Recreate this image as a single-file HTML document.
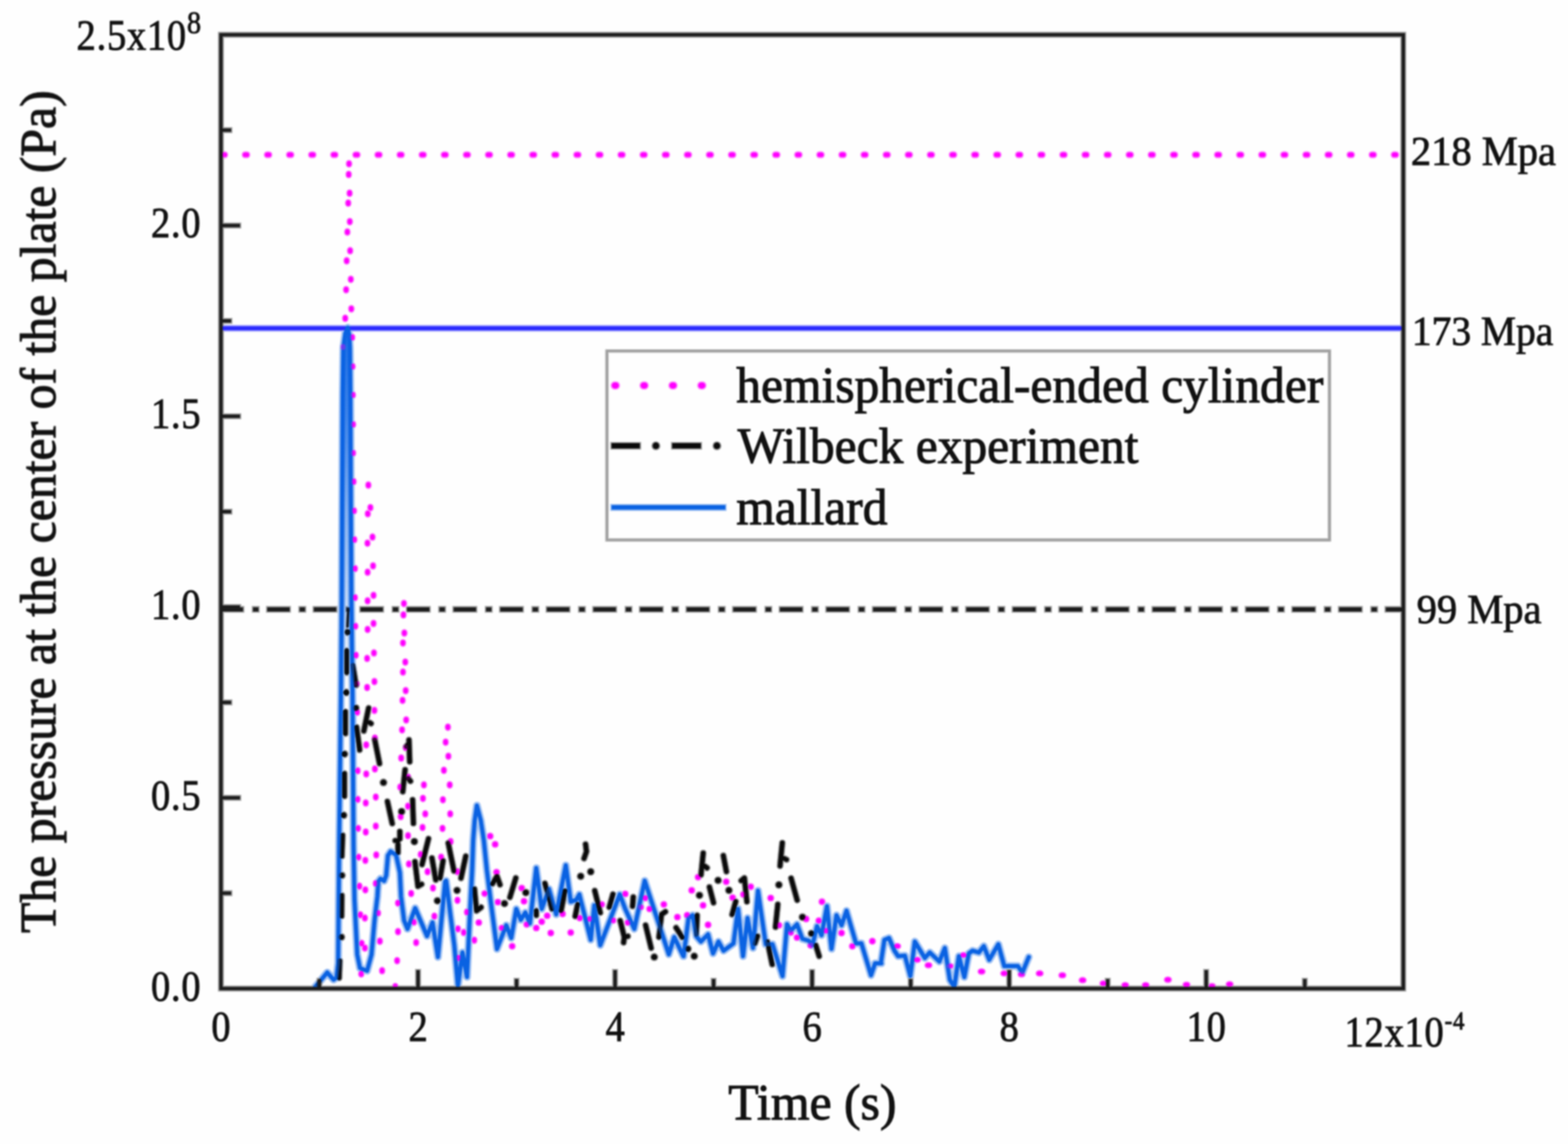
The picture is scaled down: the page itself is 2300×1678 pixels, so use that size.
<!DOCTYPE html>
<html lang="en"><head><meta charset="utf-8"><title>Pressure at the center of the plate</title>
<style>
html,body{margin:0;padding:0;background:#fff;}
body{width:2300px;height:1678px;overflow:hidden;}
svg{display:block;font-family:"Liberation Serif","Times New Roman",serif;}
.h{filter:blur(1.1px);opacity:0.36;}
.g{filter:blur(0.8px);}
.t{filter:blur(1.3px);}
text{fill:#111;stroke:#111;}
.tk{font-size:60px;stroke-width:1.1px;}
.bg{font-size:73px;stroke-width:1.4px;}
</style></head><body>
<svg width="2300" height="1678" viewBox="0 0 2300 1678">
<defs><linearGradient id="sg" gradientUnits="userSpaceOnUse" x1="0" y1="481" x2="0" y2="1020"><stop offset="0" stop-color="#0a62e2" stop-opacity="0.9"/><stop offset="0.22" stop-color="#0a62e2" stop-opacity="0.7"/><stop offset="0.5" stop-color="#0a62e2" stop-opacity="0.38"/><stop offset="0.78" stop-color="#0a62e2" stop-opacity="0.16"/><stop offset="1" stop-color="#0a62e2" stop-opacity="0"/></linearGradient></defs>
<rect width="2300" height="1678" fill="#fefefe"/>
<g class="h">
<line x1="327.2" y1="227.0" x2="2054.4" y2="227.0" stroke="#ff00ff" stroke-width="11.0" stroke-linecap="round" stroke-dasharray="2.4 30.01"/>
<line x1="324.1" y1="481.5" x2="2058.4" y2="481.5" stroke="#2a2aff" stroke-width="10.0"/>
<line x1="321.7" y1="893.8" x2="2058.4" y2="893.8" stroke="#1c1c1c" stroke-width="10.0" stroke-dasharray="36.80 10.70 11.80 9.06"/>
<g fill="#ff00ff">
<ellipse cx="512.0" cy="240.2" rx="5.3" ry="6.2"/>
<ellipse cx="511.5" cy="255.9" rx="5.3" ry="6.2"/>
<ellipse cx="512.8" cy="283.4" rx="5.3" ry="6.2"/>
<ellipse cx="510.8" cy="297.9" rx="5.3" ry="6.2"/>
<ellipse cx="513.1" cy="325.1" rx="5.3" ry="6.2"/>
<ellipse cx="509.5" cy="340.3" rx="5.3" ry="6.2"/>
<ellipse cx="513.6" cy="367.8" rx="5.3" ry="6.2"/>
<ellipse cx="508.5" cy="382.5" rx="5.3" ry="6.2"/>
<ellipse cx="514.6" cy="409.7" rx="5.3" ry="6.2"/>
<ellipse cx="507.7" cy="425.0" rx="5.3" ry="6.2"/>
<ellipse cx="515.3" cy="453.0" rx="5.3" ry="6.2"/>
<ellipse cx="506.4" cy="466.9" rx="5.3" ry="6.2"/>
<ellipse cx="516.6" cy="494.9" rx="5.3" ry="6.2"/>
<ellipse cx="503.4" cy="508.9" rx="5.3" ry="6.2"/>
<ellipse cx="517.1" cy="537.6" rx="5.3" ry="6.2"/>
<ellipse cx="517.6" cy="579.3" rx="5.3" ry="6.2"/>
<ellipse cx="517.9" cy="622.5" rx="5.3" ry="6.2"/>
<ellipse cx="517.9" cy="664.5" rx="5.3" ry="6.2"/>
<ellipse cx="518.6" cy="706.4" rx="5.3" ry="6.2"/>
<ellipse cx="519.2" cy="749.2" rx="5.3" ry="6.2"/>
<ellipse cx="519.7" cy="791.6" rx="5.3" ry="6.2"/>
<ellipse cx="540.3" cy="711.5" rx="5.3" ry="6.2"/>
<ellipse cx="543.3" cy="744.6" rx="5.3" ry="6.2"/>
<ellipse cx="539.5" cy="753.5" rx="5.3" ry="6.2"/>
<ellipse cx="546.4" cy="787.8" rx="5.3" ry="6.2"/>
<ellipse cx="539.0" cy="796.7" rx="5.3" ry="6.2"/>
<ellipse cx="520.6" cy="834.0" rx="5.3" ry="6.2"/>
<ellipse cx="539.2" cy="839.3" rx="5.3" ry="6.2"/>
<ellipse cx="547.2" cy="830.0" rx="5.3" ry="6.2"/>
<ellipse cx="520.6" cy="876.6" rx="5.3" ry="6.2"/>
<ellipse cx="539.2" cy="881.2" rx="5.3" ry="6.2"/>
<ellipse cx="547.9" cy="873.2" rx="5.3" ry="6.2"/>
<ellipse cx="521.2" cy="918.5" rx="5.3" ry="6.2"/>
<ellipse cx="539.2" cy="923.2" rx="5.3" ry="6.2"/>
<ellipse cx="547.9" cy="914.5" rx="5.3" ry="6.2"/>
<ellipse cx="521.9" cy="961.1" rx="5.3" ry="6.2"/>
<ellipse cx="538.5" cy="965.8" rx="5.3" ry="6.2"/>
<ellipse cx="548.5" cy="957.8" rx="5.3" ry="6.2"/>
<ellipse cx="523.2" cy="1003.1" rx="5.3" ry="6.2"/>
<ellipse cx="538.5" cy="1008.4" rx="5.3" ry="6.2"/>
<ellipse cx="549.2" cy="999.7" rx="5.3" ry="6.2"/>
<ellipse cx="592.5" cy="885.2" rx="5.3" ry="6.2"/>
<ellipse cx="591.8" cy="901.9" rx="5.3" ry="6.2"/>
<ellipse cx="593.1" cy="928.5" rx="5.3" ry="6.2"/>
<ellipse cx="591.1" cy="943.1" rx="5.3" ry="6.2"/>
<ellipse cx="594.5" cy="971.1" rx="5.3" ry="6.2"/>
<ellipse cx="591.1" cy="985.8" rx="5.3" ry="6.2"/>
<ellipse cx="595.1" cy="1013.0" rx="5.3" ry="6.2"/>
<ellipse cx="523.9" cy="1044.6" rx="5.3" ry="6.2"/>
<ellipse cx="549.2" cy="1042.0" rx="5.3" ry="6.2"/>
<ellipse cx="537.2" cy="1092.6" rx="5.3" ry="6.2"/>
<ellipse cx="549.9" cy="1082.6" rx="5.3" ry="6.2"/>
<ellipse cx="524.6" cy="1130.5" rx="5.3" ry="6.2"/>
<ellipse cx="537.2" cy="1135.2" rx="5.3" ry="6.2"/>
<ellipse cx="549.9" cy="1127.9" rx="5.3" ry="6.2"/>
<ellipse cx="524.6" cy="1172.5" rx="5.3" ry="6.2"/>
<ellipse cx="536.5" cy="1177.8" rx="5.3" ry="6.2"/>
<ellipse cx="551.2" cy="1169.1" rx="5.3" ry="6.2"/>
<ellipse cx="525.2" cy="1215.1" rx="5.3" ry="6.2"/>
<ellipse cx="536.5" cy="1220.4" rx="5.3" ry="6.2"/>
<ellipse cx="551.2" cy="1211.7" rx="5.3" ry="6.2"/>
<ellipse cx="590.5" cy="1027.3" rx="5.3" ry="6.2"/>
<ellipse cx="595.8" cy="1056.0" rx="5.3" ry="6.2"/>
<ellipse cx="589.8" cy="1070.6" rx="5.3" ry="6.2"/>
<ellipse cx="595.1" cy="1096.6" rx="5.3" ry="6.2"/>
<ellipse cx="588.5" cy="1111.9" rx="5.3" ry="6.2"/>
<ellipse cx="598.5" cy="1139.8" rx="5.3" ry="6.2"/>
<ellipse cx="587.1" cy="1154.5" rx="5.3" ry="6.2"/>
<ellipse cx="598.5" cy="1182.5" rx="5.3" ry="6.2"/>
<ellipse cx="587.8" cy="1197.8" rx="5.3" ry="6.2"/>
<ellipse cx="598.5" cy="1225.7" rx="5.3" ry="6.2"/>
<ellipse cx="621.8" cy="1151.2" rx="5.3" ry="6.2"/>
<ellipse cx="620.4" cy="1171.1" rx="5.3" ry="6.2"/>
<ellipse cx="623.8" cy="1193.8" rx="5.3" ry="6.2"/>
<ellipse cx="619.8" cy="1213.7" rx="5.3" ry="6.2"/>
<ellipse cx="657.0" cy="1066.6" rx="5.3" ry="6.2"/>
<ellipse cx="653.7" cy="1088.6" rx="5.3" ry="6.2"/>
<ellipse cx="657.7" cy="1109.2" rx="5.3" ry="6.2"/>
<ellipse cx="651.1" cy="1129.9" rx="5.3" ry="6.2"/>
<ellipse cx="659.7" cy="1151.2" rx="5.3" ry="6.2"/>
<ellipse cx="649.7" cy="1173.1" rx="5.3" ry="6.2"/>
<ellipse cx="660.4" cy="1193.8" rx="5.3" ry="6.2"/>
<ellipse cx="649.1" cy="1215.1" rx="5.3" ry="6.2"/>
<ellipse cx="661.0" cy="1234.4" rx="5.3" ry="6.2"/>
<circle cx="719.0" cy="1226.4" r="5.8"/>
<circle cx="726.3" cy="1238.4" r="5.8"/>
<ellipse cx="525.9" cy="1257.3" rx="5.3" ry="6.2"/>
<ellipse cx="535.9" cy="1262.0" rx="5.3" ry="6.2"/>
<ellipse cx="551.9" cy="1254.0" rx="5.3" ry="6.2"/>
<ellipse cx="527.2" cy="1299.9" rx="5.3" ry="6.2"/>
<ellipse cx="535.9" cy="1305.2" rx="5.3" ry="6.2"/>
<ellipse cx="551.2" cy="1295.9" rx="5.3" ry="6.2"/>
<ellipse cx="528.5" cy="1341.9" rx="5.3" ry="6.2"/>
<ellipse cx="535.2" cy="1346.5" rx="5.3" ry="6.2"/>
<ellipse cx="554.5" cy="1339.2" rx="5.3" ry="6.2"/>
<ellipse cx="530.5" cy="1383.8" rx="5.3" ry="6.2"/>
<ellipse cx="535.2" cy="1390.5" rx="5.3" ry="6.2"/>
<ellipse cx="557.2" cy="1380.5" rx="5.3" ry="6.2"/>
<ellipse cx="529.9" cy="1428.4" rx="5.3" ry="6.2"/>
<ellipse cx="560.5" cy="1423.8" rx="5.3" ry="6.2"/>
<ellipse cx="583.8" cy="1324.6" rx="5.3" ry="6.2"/>
<ellipse cx="583.8" cy="1366.5" rx="5.3" ry="6.2"/>
<ellipse cx="582.5" cy="1409.1" rx="5.3" ry="6.2"/>
<ellipse cx="579.8" cy="1447.1" rx="5.3" ry="6.2"/>
<ellipse cx="599.8" cy="1267.3" rx="5.3" ry="6.2"/>
<ellipse cx="603.1" cy="1310.6" rx="5.3" ry="6.2"/>
<ellipse cx="607.1" cy="1352.5" rx="5.3" ry="6.2"/>
<ellipse cx="610.4" cy="1382.5" rx="5.3" ry="6.2"/>
<ellipse cx="617.1" cy="1253.3" rx="5.3" ry="6.2"/>
<ellipse cx="627.1" cy="1278.6" rx="5.3" ry="6.2"/>
<ellipse cx="635.1" cy="1302.6" rx="5.3" ry="6.2"/>
<ellipse cx="647.1" cy="1257.3" rx="5.3" ry="6.2"/>
<ellipse cx="637.1" cy="1343.9" rx="5.3" ry="6.2"/>
<ellipse cx="671.0" cy="1278.6" rx="5.3" ry="6.2"/>
<ellipse cx="671.0" cy="1320.6" rx="5.3" ry="6.2"/>
<ellipse cx="671.7" cy="1362.5" rx="5.3" ry="6.2"/>
<ellipse cx="680.3" cy="1367.8" rx="5.3" ry="6.2"/>
<ellipse cx="672.4" cy="1405.1" rx="5.3" ry="6.2"/>
<ellipse cx="685.0" cy="1337.9" rx="5.3" ry="6.2"/>
<ellipse cx="695.7" cy="1379.1" rx="5.3" ry="6.2"/>
<circle cx="702.3" cy="1353.2" r="5.8"/>
<circle cx="711.0" cy="1310.6" r="5.8"/>
<circle cx="728.3" cy="1279.3" r="5.8"/>
<circle cx="730.3" cy="1323.2" r="5.8"/>
<circle cx="736.3" cy="1361.2" r="5.8"/>
<circle cx="751.3" cy="1387.8" r="5.8"/>
<circle cx="765.3" cy="1302.6" r="5.8"/>
<circle cx="768.6" cy="1321.9" r="5.8"/>
<circle cx="772.6" cy="1355.8" r="5.8"/>
<circle cx="786.6" cy="1361.2" r="5.8"/>
<circle cx="794.6" cy="1351.9" r="5.8"/>
<circle cx="802.6" cy="1343.2" r="5.8"/>
<circle cx="807.9" cy="1368.5" r="5.8"/>
<circle cx="825.2" cy="1340.5" r="5.8"/>
<circle cx="837.2" cy="1367.8" r="5.8"/>
<circle cx="850.5" cy="1346.5" r="5.8"/>
<circle cx="865.1" cy="1347.9" r="5.8"/>
<circle cx="882.5" cy="1326.6" r="5.8"/>
<circle cx="899.1" cy="1349.9" r="5.8"/>
<circle cx="917.1" cy="1311.2" r="5.8"/>
<circle cx="921.1" cy="1353.2" r="5.8"/>
<circle cx="946.4" cy="1317.2" r="5.8"/>
<circle cx="939.7" cy="1330.5" r="5.8"/>
<circle cx="953.0" cy="1333.2" r="5.8"/>
<circle cx="973.7" cy="1326.6" r="5.8"/>
<circle cx="993.6" cy="1345.2" r="5.8"/>
<circle cx="1024.0" cy="1286.6" r="5.8"/>
<circle cx="1014.6" cy="1305.9" r="5.8"/>
<circle cx="1031.3" cy="1327.9" r="5.8"/>
<circle cx="1008.0" cy="1342.5" r="5.8"/>
<circle cx="1038.6" cy="1356.5" r="5.8"/>
<circle cx="1065.2" cy="1293.3" r="5.8"/>
<circle cx="1074.6" cy="1316.6" r="5.8"/>
<circle cx="1090.5" cy="1311.9" r="5.8"/>
<circle cx="1101.2" cy="1300.6" r="5.8"/>
<circle cx="1130.5" cy="1317.2" r="5.8"/>
<circle cx="1142.5" cy="1357.2" r="5.8"/>
<circle cx="1159.8" cy="1367.8" r="5.8"/>
<circle cx="1169.1" cy="1375.2" r="5.8"/>
<circle cx="1182.4" cy="1347.9" r="5.8"/>
<circle cx="1189.1" cy="1386.5" r="5.8"/>
<circle cx="1201.1" cy="1350.5" r="5.8"/>
<circle cx="1205.7" cy="1322.6" r="5.8"/>
<circle cx="1211.7" cy="1365.2" r="5.8"/>
<circle cx="1234.4" cy="1368.5" r="5.8"/>
<circle cx="1250.3" cy="1387.8" r="5.8"/>
<circle cx="1279.6" cy="1380.5" r="5.8"/>
<ellipse cx="1316.0" cy="1387.8" rx="6.5" ry="5.4"/>
<ellipse cx="1345.2" cy="1407.8" rx="6.5" ry="5.4"/>
<ellipse cx="1361.9" cy="1415.8" rx="6.5" ry="5.4"/>
<ellipse cx="1393.2" cy="1417.1" rx="6.5" ry="5.4"/>
<ellipse cx="1413.2" cy="1401.1" rx="6.5" ry="5.4"/>
<ellipse cx="1439.8" cy="1425.1" rx="6.5" ry="5.4"/>
<ellipse cx="1473.1" cy="1427.7" rx="6.5" ry="5.4"/>
<ellipse cx="1498.4" cy="1429.1" rx="6.5" ry="5.4"/>
<ellipse cx="1525.0" cy="1427.7" rx="6.5" ry="5.4"/>
<ellipse cx="1558.3" cy="1430.4" rx="6.5" ry="5.4"/>
<ellipse cx="1588.0" cy="1437.7" rx="6.5" ry="5.4"/>
<ellipse cx="1618.6" cy="1442.4" rx="6.5" ry="5.4"/>
<ellipse cx="1650.5" cy="1445.1" rx="6.5" ry="5.4"/>
<ellipse cx="1680.5" cy="1445.1" rx="6.5" ry="5.4"/>
<ellipse cx="1713.1" cy="1437.1" rx="6.5" ry="5.4"/>
<ellipse cx="1740.4" cy="1444.4" rx="6.5" ry="5.4"/>
<ellipse cx="1777.7" cy="1446.4" rx="6.5" ry="5.4"/>
<ellipse cx="1803.7" cy="1443.7" rx="6.5" ry="5.4"/>
</g>
<g>
<g stroke="#0a0a0a" stroke-width="10.4" fill="none" stroke-linejoin="round" stroke-linecap="round">
<polyline points="508.6,954.4 508.6,986.5"/>
<polyline points="506.6,1043.9 506.6,1076.0"/>
<polyline points="505.2,1134.5 505.2,1167.9"/>
<polyline points="502.5,1225.0 501.4,1256.0"/>
<polyline points="501.3,1313.2 501.0,1343.9"/>
<polyline points="498.4,1409.1 497.4,1434.4"/>
<polyline points="466.8,1444.5 468.2,1440.5"/>
<polyline points="517.6,975.7 522.2,1005.1"/>
<polyline points="523.0,1066.6 527.5,1100.0"/>
<polyline points="540.7,1038.5 533.7,1072.1"/>
<polyline points="542.1,1059.9 544.3,1061.3"/>
<polyline points="549.7,1085.1 556.7,1120.0"/>
<polyline points="599.9,1085.2 601.0,1117.3"/>
<polyline points="596.0,1095.1 598.3,1092.1"/>
<polyline points="594.2,1129.1 590.8,1161.2"/>
<polyline points="598.8,1141.8 602.1,1145.8"/>
<polyline points="568.3,1175.6 575.3,1207.9"/>
<polyline points="605.2,1173.1 606.4,1207.8"/>
<polyline points="586.5,1219.6 586.5,1230.4"/>
<polyline points="579.8,1233.0 583.9,1233.0"/>
<polyline points="628.5,1230.2 619.0,1268.1"/>
<polyline points="657.5,1236.5 665.9,1277.5"/>
<polyline points="583.8,1238.6 583.8,1250.7"/>
<polyline points="608.7,1263.9 613.1,1300.0 618.4,1297.0"/>
<polyline points="633.6,1258.6 639.2,1290.7"/>
<polyline points="649.9,1262.6 645.5,1288.0"/>
<polyline points="683.2,1255.8 676.2,1288.1"/>
<polyline points="695.9,1303.9 699.0,1336.0 705.7,1330.8"/>
<polyline points="722.3,1296.4 729.0,1285.3 733.4,1297.6"/>
<polyline points="756.6,1287.8 748.0,1316.1"/>
<polyline points="799.3,1295.8 809.8,1333.4"/>
<polyline points="786.6,1335.8 786.6,1342.6"/>
<polyline points="828.7,1306.5 823.0,1335.9"/>
<polyline points="858.9,1238.2 860.3,1249.0 856.7,1259.2"/>
<polyline points="847.3,1326.4 843.7,1344.0"/>
<polyline points="872.4,1306.4 880.5,1338.7"/>
<polyline points="899.1,1311.7 893.8,1330.7"/>
<polyline points="928.9,1315.8 927.9,1329.3"/>
<polyline points="909.7,1350.4 915.7,1374.5 921.0,1373.2"/>
<polyline points="915.4,1377.1 914.7,1382.5"/>
<polyline points="947.0,1357.0 955.1,1390.6"/>
<polyline points="976.1,1337.3 970.3,1341.2 966.6,1374.6"/>
<polyline points="991.7,1360.7 1000.9,1375.0"/>
<polyline points="1031.5,1251.2 1028.3,1283.1"/>
<polyline points="1033.9,1270.6 1037.1,1273.0"/>
<polyline points="1061.0,1254.9 1065.5,1278.4"/>
<polyline points="1040.6,1301.1 1046.6,1324.1"/>
<polyline points="1087.2,1291.7 1091.9,1287.9 1095.6,1322.6"/>
<polyline points="1079.2,1322.4 1073.9,1341.4"/>
<polyline points="1022.5,1342.5 1021.4,1370.6"/>
<polyline points="1111.1,1373.0 1107.3,1384.0"/>
<polyline points="1125.7,1381.0 1132.7,1414.6"/>
<polyline points="1140.9,1326.5 1137.5,1359.9"/>
<polyline points="1147.5,1236.4 1144.2,1270.1"/>
<polyline points="1150.0,1259.1 1153.7,1260.9"/>
<polyline points="1160.4,1288.2 1169.3,1320.3"/>
<polyline points="1196.5,1386.3 1201.6,1402.6"/>
<polyline stroke-width="5.5" points="510.8,893.9 509.8,919.0"/>
</g>
<g fill="#0a0a0a">
<circle cx="510.0" cy="927.2" r="6.2"/>
<circle cx="507.9" cy="1015.7" r="6.2"/>
<circle cx="505.2" cy="1106.0" r="6.2"/>
<circle cx="504.0" cy="1195.8" r="6.2"/>
<circle cx="501.3" cy="1284.0" r="6.2"/>
<circle cx="500.6" cy="1374.5" r="6.2"/>
<circle cx="521.9" cy="1038.6" r="6.2"/>
<circle cx="562.5" cy="1147.8" r="6.2"/>
<circle cx="589.1" cy="1190.4" r="6.2"/>
<circle cx="607.8" cy="1234.4" r="6.2"/>
<circle cx="670.4" cy="1306.0" r="6.2"/>
<circle cx="641.7" cy="1321.2" r="6.2"/>
<circle cx="740.0" cy="1325.2" r="6.2"/>
<circle cx="771.3" cy="1309.2" r="6.2"/>
<circle cx="851.8" cy="1285.3" r="6.2"/>
<circle cx="866.5" cy="1278.6" r="6.2"/>
<circle cx="959.7" cy="1403.8" r="6.2"/>
<circle cx="1009.0" cy="1391.8" r="6.2"/>
<circle cx="1018.3" cy="1402.5" r="6.2"/>
<circle cx="1053.3" cy="1291.3" r="6.2"/>
<circle cx="1026.0" cy="1313.2" r="6.2"/>
<circle cx="1069.2" cy="1305.9" r="6.2"/>
<circle cx="1142.5" cy="1297.9" r="6.2"/>
<circle cx="1177.1" cy="1345.2" r="6.2"/>
<circle cx="1190.4" cy="1369.2" r="6.2"/>
</g>
</g>
<polyline fill="none" stroke="#0a62e2" stroke-width="11.5" stroke-linejoin="round" stroke-linecap="round" points="462.0,1448.0 468.0,1441.0 480.0,1426.4 489.3,1437.0 493.5,1434.0 496.0,1413.0 497.5,1240.0 500.1,1020.0 501.3,885.0 502.0,718.0 502.7,579.0 503.6,510.0 506.5,489.0 510.1,480.5 512.4,492.0 513.3,510.0 514.0,579.0 514.6,718.0 515.5,885.0 517.1,1020.0 518.6,1240.0 520.0,1320.0 524.0,1400.0 528.0,1420.0 538.5,1424.0 545.0,1400.0 549.4,1350.0 553.6,1315.0 555.0,1293.0 558.0,1289.0 563.5,1292.0 566.5,1284.0 569.0,1255.0 573.0,1249.0 581.0,1254.0 586.6,1280.0 588.3,1315.0 592.7,1350.0 597.8,1362.5 609.0,1332.0 626.4,1373.0 634.4,1353.0 642.4,1403.8 653.0,1293.0 654.4,1292.0 666.4,1386.5 671.7,1446.4 678.4,1397.0 685.0,1433.0 689.0,1346.5 692.6,1276.0 694.1,1232.6 696.3,1203.6 699.5,1181.5 705.3,1203.6 709.7,1232.6 714.1,1276.0 719.6,1320.0 729.0,1392.0 742.6,1357.2 750.0,1375.8 757.3,1333.2 763.9,1349.2 770.6,1338.5 777.3,1354.5 786.6,1273.3 794.6,1333.2 805.2,1303.9 815.9,1341.2 829.9,1269.3 837.2,1322.6 845.2,1319.9 849.8,1311.9 866.5,1378.5 871.8,1327.9 880.5,1386.5 909.1,1311.9 917.1,1333.2 930.4,1362.5 945.7,1291.9 981.0,1399.8 989.0,1374.5 1002.3,1402.5 1002.7,1402.5 1010.0,1346.5 1016.0,1342.5 1021.3,1373.2 1028.0,1381.1 1038.6,1370.5 1045.9,1398.5 1053.9,1381.1 1061.3,1394.5 1075.9,1383.8 1082.6,1333.2 1089.9,1402.5 1096.5,1346.5 1104.5,1390.5 1111.9,1306.6 1123.2,1385.1 1133.2,1385.1 1147.8,1431.7 1154.5,1355.8 1159.8,1365.2 1169.1,1355.8 1177.1,1377.2 1186.4,1379.8 1191.7,1386.5 1198.4,1358.5 1205.1,1371.8 1213.0,1329.2 1219.7,1391.8 1227.0,1342.5 1234.4,1357.2 1241.7,1335.9 1255.7,1383.8 1263.6,1383.8 1277.6,1430.4 1283.6,1413.1 1292.9,1413.1 1292.0,1413.1 1297.3,1378.5 1304.0,1375.8 1312.0,1394.5 1317.3,1402.5 1327.3,1401.8 1335.3,1431.7 1341.9,1381.1 1356.6,1405.1 1363.9,1397.1 1377.9,1410.4 1385.9,1390.5 1393.2,1437.1 1399.8,1447.7 1406.5,1402.5 1414.5,1433.1 1421.1,1398.5 1426.5,1394.5 1435.8,1397.1 1443.1,1387.8 1451.1,1407.8 1464.4,1385.1 1473.1,1417.1 1493.0,1417.1 1499.7,1426.4 1509.0,1403.8"/>
<g stroke="#1c1c1c" stroke-width="8.9" fill="none">
<rect x="324.1" y="51.0" width="1734.3" height="1399.0"/>
<line x1="324.1" y1="1310.1" x2="341.0" y2="1310.1"/>
<line x1="324.1" y1="1170.2" x2="354.0" y2="1170.2"/>
<line x1="324.1" y1="1030.3" x2="341.0" y2="1030.3"/>
<line x1="324.1" y1="890.4" x2="354.0" y2="890.4"/>
<line x1="324.1" y1="750.5" x2="341.0" y2="750.5"/>
<line x1="324.1" y1="610.6" x2="354.0" y2="610.6"/>
<line x1="324.1" y1="470.7" x2="341.0" y2="470.7"/>
<line x1="324.1" y1="330.8" x2="354.0" y2="330.8"/>
<line x1="324.1" y1="190.9" x2="341.0" y2="190.9"/>
<line x1="468.6" y1="1450.0" x2="468.6" y2="1434.1"/>
<line x1="613.2" y1="1450.0" x2="613.2" y2="1421.1"/>
<line x1="757.7" y1="1450.0" x2="757.7" y2="1434.1"/>
<line x1="902.2" y1="1450.0" x2="902.2" y2="1421.1"/>
<line x1="1046.7" y1="1450.0" x2="1046.7" y2="1434.1"/>
<line x1="1191.2" y1="1450.0" x2="1191.2" y2="1421.1"/>
<line x1="1335.8" y1="1450.0" x2="1335.8" y2="1434.1"/>
<line x1="1480.3" y1="1450.0" x2="1480.3" y2="1421.1"/>
<line x1="1624.8" y1="1450.0" x2="1624.8" y2="1434.1"/>
<line x1="1769.3" y1="1450.0" x2="1769.3" y2="1421.1"/>
<line x1="1913.9" y1="1450.0" x2="1913.9" y2="1434.1"/>
</g>
<rect x="890.3" y="514.8" width="1059.8" height="277.2" fill="none" stroke="#9c9c9c" stroke-width="5.7"/>
<line x1="901.8" y1="565.4" x2="1040" y2="565.4" stroke="#ff00ff" stroke-width="12.8" stroke-linecap="round" stroke-dasharray="1.5 40.8"/>
<g stroke="#0a0a0a" stroke-width="11.4"><line x1="895.1" y1="653.9" x2="940.5" y2="653.9"/><line x1="984.1" y1="653.9" x2="1029.9" y2="653.9"/></g>
<g fill="#0a0a0a"><circle cx="962.1" cy="653.9" r="6.7"/><circle cx="1051.6" cy="653.9" r="6.7"/></g>
<line x1="895.1" y1="744.2" x2="1065.9" y2="744.2" stroke="#0a62e2" stroke-width="10.4"/>
</g>
<g class="g">
<line x1="327.2" y1="227.0" x2="2054.4" y2="227.0" stroke="#ff00ff" stroke-width="7.2" stroke-linecap="round" stroke-dasharray="2.4 30.01"/>
<line x1="324.1" y1="481.5" x2="2058.4" y2="481.5" stroke="#2a2aff" stroke-width="6.2"/>
<line x1="323.6" y1="893.8" x2="2058.4" y2="893.8" stroke="#1c1c1c" stroke-width="6.2" stroke-dasharray="33.00 14.50 8.00 12.86"/>
<g fill="#ff00ff">
<ellipse cx="512.0" cy="240.2" rx="3.4" ry="4.3"/>
<ellipse cx="511.5" cy="255.9" rx="3.4" ry="4.3"/>
<ellipse cx="512.8" cy="283.4" rx="3.4" ry="4.3"/>
<ellipse cx="510.8" cy="297.9" rx="3.4" ry="4.3"/>
<ellipse cx="513.1" cy="325.1" rx="3.4" ry="4.3"/>
<ellipse cx="509.5" cy="340.3" rx="3.4" ry="4.3"/>
<ellipse cx="513.6" cy="367.8" rx="3.4" ry="4.3"/>
<ellipse cx="508.5" cy="382.5" rx="3.4" ry="4.3"/>
<ellipse cx="514.6" cy="409.7" rx="3.4" ry="4.3"/>
<ellipse cx="507.7" cy="425.0" rx="3.4" ry="4.3"/>
<ellipse cx="515.3" cy="453.0" rx="3.4" ry="4.3"/>
<ellipse cx="506.4" cy="466.9" rx="3.4" ry="4.3"/>
<ellipse cx="516.6" cy="494.9" rx="3.4" ry="4.3"/>
<ellipse cx="503.4" cy="508.9" rx="3.4" ry="4.3"/>
<ellipse cx="517.1" cy="537.6" rx="3.4" ry="4.3"/>
<ellipse cx="517.6" cy="579.3" rx="3.4" ry="4.3"/>
<ellipse cx="517.9" cy="622.5" rx="3.4" ry="4.3"/>
<ellipse cx="517.9" cy="664.5" rx="3.4" ry="4.3"/>
<ellipse cx="518.6" cy="706.4" rx="3.4" ry="4.3"/>
<ellipse cx="519.2" cy="749.2" rx="3.4" ry="4.3"/>
<ellipse cx="519.7" cy="791.6" rx="3.4" ry="4.3"/>
<ellipse cx="540.3" cy="711.5" rx="3.4" ry="4.3"/>
<ellipse cx="543.3" cy="744.6" rx="3.4" ry="4.3"/>
<ellipse cx="539.5" cy="753.5" rx="3.4" ry="4.3"/>
<ellipse cx="546.4" cy="787.8" rx="3.4" ry="4.3"/>
<ellipse cx="539.0" cy="796.7" rx="3.4" ry="4.3"/>
<ellipse cx="520.6" cy="834.0" rx="3.4" ry="4.3"/>
<ellipse cx="539.2" cy="839.3" rx="3.4" ry="4.3"/>
<ellipse cx="547.2" cy="830.0" rx="3.4" ry="4.3"/>
<ellipse cx="520.6" cy="876.6" rx="3.4" ry="4.3"/>
<ellipse cx="539.2" cy="881.2" rx="3.4" ry="4.3"/>
<ellipse cx="547.9" cy="873.2" rx="3.4" ry="4.3"/>
<ellipse cx="521.2" cy="918.5" rx="3.4" ry="4.3"/>
<ellipse cx="539.2" cy="923.2" rx="3.4" ry="4.3"/>
<ellipse cx="547.9" cy="914.5" rx="3.4" ry="4.3"/>
<ellipse cx="521.9" cy="961.1" rx="3.4" ry="4.3"/>
<ellipse cx="538.5" cy="965.8" rx="3.4" ry="4.3"/>
<ellipse cx="548.5" cy="957.8" rx="3.4" ry="4.3"/>
<ellipse cx="523.2" cy="1003.1" rx="3.4" ry="4.3"/>
<ellipse cx="538.5" cy="1008.4" rx="3.4" ry="4.3"/>
<ellipse cx="549.2" cy="999.7" rx="3.4" ry="4.3"/>
<ellipse cx="592.5" cy="885.2" rx="3.4" ry="4.3"/>
<ellipse cx="591.8" cy="901.9" rx="3.4" ry="4.3"/>
<ellipse cx="593.1" cy="928.5" rx="3.4" ry="4.3"/>
<ellipse cx="591.1" cy="943.1" rx="3.4" ry="4.3"/>
<ellipse cx="594.5" cy="971.1" rx="3.4" ry="4.3"/>
<ellipse cx="591.1" cy="985.8" rx="3.4" ry="4.3"/>
<ellipse cx="595.1" cy="1013.0" rx="3.4" ry="4.3"/>
<ellipse cx="523.9" cy="1044.6" rx="3.4" ry="4.3"/>
<ellipse cx="549.2" cy="1042.0" rx="3.4" ry="4.3"/>
<ellipse cx="537.2" cy="1092.6" rx="3.4" ry="4.3"/>
<ellipse cx="549.9" cy="1082.6" rx="3.4" ry="4.3"/>
<ellipse cx="524.6" cy="1130.5" rx="3.4" ry="4.3"/>
<ellipse cx="537.2" cy="1135.2" rx="3.4" ry="4.3"/>
<ellipse cx="549.9" cy="1127.9" rx="3.4" ry="4.3"/>
<ellipse cx="524.6" cy="1172.5" rx="3.4" ry="4.3"/>
<ellipse cx="536.5" cy="1177.8" rx="3.4" ry="4.3"/>
<ellipse cx="551.2" cy="1169.1" rx="3.4" ry="4.3"/>
<ellipse cx="525.2" cy="1215.1" rx="3.4" ry="4.3"/>
<ellipse cx="536.5" cy="1220.4" rx="3.4" ry="4.3"/>
<ellipse cx="551.2" cy="1211.7" rx="3.4" ry="4.3"/>
<ellipse cx="590.5" cy="1027.3" rx="3.4" ry="4.3"/>
<ellipse cx="595.8" cy="1056.0" rx="3.4" ry="4.3"/>
<ellipse cx="589.8" cy="1070.6" rx="3.4" ry="4.3"/>
<ellipse cx="595.1" cy="1096.6" rx="3.4" ry="4.3"/>
<ellipse cx="588.5" cy="1111.9" rx="3.4" ry="4.3"/>
<ellipse cx="598.5" cy="1139.8" rx="3.4" ry="4.3"/>
<ellipse cx="587.1" cy="1154.5" rx="3.4" ry="4.3"/>
<ellipse cx="598.5" cy="1182.5" rx="3.4" ry="4.3"/>
<ellipse cx="587.8" cy="1197.8" rx="3.4" ry="4.3"/>
<ellipse cx="598.5" cy="1225.7" rx="3.4" ry="4.3"/>
<ellipse cx="621.8" cy="1151.2" rx="3.4" ry="4.3"/>
<ellipse cx="620.4" cy="1171.1" rx="3.4" ry="4.3"/>
<ellipse cx="623.8" cy="1193.8" rx="3.4" ry="4.3"/>
<ellipse cx="619.8" cy="1213.7" rx="3.4" ry="4.3"/>
<ellipse cx="657.0" cy="1066.6" rx="3.4" ry="4.3"/>
<ellipse cx="653.7" cy="1088.6" rx="3.4" ry="4.3"/>
<ellipse cx="657.7" cy="1109.2" rx="3.4" ry="4.3"/>
<ellipse cx="651.1" cy="1129.9" rx="3.4" ry="4.3"/>
<ellipse cx="659.7" cy="1151.2" rx="3.4" ry="4.3"/>
<ellipse cx="649.7" cy="1173.1" rx="3.4" ry="4.3"/>
<ellipse cx="660.4" cy="1193.8" rx="3.4" ry="4.3"/>
<ellipse cx="649.1" cy="1215.1" rx="3.4" ry="4.3"/>
<ellipse cx="661.0" cy="1234.4" rx="3.4" ry="4.3"/>
<circle cx="719.0" cy="1226.4" r="3.9"/>
<circle cx="726.3" cy="1238.4" r="3.9"/>
<ellipse cx="525.9" cy="1257.3" rx="3.4" ry="4.3"/>
<ellipse cx="535.9" cy="1262.0" rx="3.4" ry="4.3"/>
<ellipse cx="551.9" cy="1254.0" rx="3.4" ry="4.3"/>
<ellipse cx="527.2" cy="1299.9" rx="3.4" ry="4.3"/>
<ellipse cx="535.9" cy="1305.2" rx="3.4" ry="4.3"/>
<ellipse cx="551.2" cy="1295.9" rx="3.4" ry="4.3"/>
<ellipse cx="528.5" cy="1341.9" rx="3.4" ry="4.3"/>
<ellipse cx="535.2" cy="1346.5" rx="3.4" ry="4.3"/>
<ellipse cx="554.5" cy="1339.2" rx="3.4" ry="4.3"/>
<ellipse cx="530.5" cy="1383.8" rx="3.4" ry="4.3"/>
<ellipse cx="535.2" cy="1390.5" rx="3.4" ry="4.3"/>
<ellipse cx="557.2" cy="1380.5" rx="3.4" ry="4.3"/>
<ellipse cx="529.9" cy="1428.4" rx="3.4" ry="4.3"/>
<ellipse cx="560.5" cy="1423.8" rx="3.4" ry="4.3"/>
<ellipse cx="583.8" cy="1324.6" rx="3.4" ry="4.3"/>
<ellipse cx="583.8" cy="1366.5" rx="3.4" ry="4.3"/>
<ellipse cx="582.5" cy="1409.1" rx="3.4" ry="4.3"/>
<ellipse cx="579.8" cy="1447.1" rx="3.4" ry="4.3"/>
<ellipse cx="599.8" cy="1267.3" rx="3.4" ry="4.3"/>
<ellipse cx="603.1" cy="1310.6" rx="3.4" ry="4.3"/>
<ellipse cx="607.1" cy="1352.5" rx="3.4" ry="4.3"/>
<ellipse cx="610.4" cy="1382.5" rx="3.4" ry="4.3"/>
<ellipse cx="617.1" cy="1253.3" rx="3.4" ry="4.3"/>
<ellipse cx="627.1" cy="1278.6" rx="3.4" ry="4.3"/>
<ellipse cx="635.1" cy="1302.6" rx="3.4" ry="4.3"/>
<ellipse cx="647.1" cy="1257.3" rx="3.4" ry="4.3"/>
<ellipse cx="637.1" cy="1343.9" rx="3.4" ry="4.3"/>
<ellipse cx="671.0" cy="1278.6" rx="3.4" ry="4.3"/>
<ellipse cx="671.0" cy="1320.6" rx="3.4" ry="4.3"/>
<ellipse cx="671.7" cy="1362.5" rx="3.4" ry="4.3"/>
<ellipse cx="680.3" cy="1367.8" rx="3.4" ry="4.3"/>
<ellipse cx="672.4" cy="1405.1" rx="3.4" ry="4.3"/>
<ellipse cx="685.0" cy="1337.9" rx="3.4" ry="4.3"/>
<ellipse cx="695.7" cy="1379.1" rx="3.4" ry="4.3"/>
<circle cx="702.3" cy="1353.2" r="3.9"/>
<circle cx="711.0" cy="1310.6" r="3.9"/>
<circle cx="728.3" cy="1279.3" r="3.9"/>
<circle cx="730.3" cy="1323.2" r="3.9"/>
<circle cx="736.3" cy="1361.2" r="3.9"/>
<circle cx="751.3" cy="1387.8" r="3.9"/>
<circle cx="765.3" cy="1302.6" r="3.9"/>
<circle cx="768.6" cy="1321.9" r="3.9"/>
<circle cx="772.6" cy="1355.8" r="3.9"/>
<circle cx="786.6" cy="1361.2" r="3.9"/>
<circle cx="794.6" cy="1351.9" r="3.9"/>
<circle cx="802.6" cy="1343.2" r="3.9"/>
<circle cx="807.9" cy="1368.5" r="3.9"/>
<circle cx="825.2" cy="1340.5" r="3.9"/>
<circle cx="837.2" cy="1367.8" r="3.9"/>
<circle cx="850.5" cy="1346.5" r="3.9"/>
<circle cx="865.1" cy="1347.9" r="3.9"/>
<circle cx="882.5" cy="1326.6" r="3.9"/>
<circle cx="899.1" cy="1349.9" r="3.9"/>
<circle cx="917.1" cy="1311.2" r="3.9"/>
<circle cx="921.1" cy="1353.2" r="3.9"/>
<circle cx="946.4" cy="1317.2" r="3.9"/>
<circle cx="939.7" cy="1330.5" r="3.9"/>
<circle cx="953.0" cy="1333.2" r="3.9"/>
<circle cx="973.7" cy="1326.6" r="3.9"/>
<circle cx="993.6" cy="1345.2" r="3.9"/>
<circle cx="1024.0" cy="1286.6" r="3.9"/>
<circle cx="1014.6" cy="1305.9" r="3.9"/>
<circle cx="1031.3" cy="1327.9" r="3.9"/>
<circle cx="1008.0" cy="1342.5" r="3.9"/>
<circle cx="1038.6" cy="1356.5" r="3.9"/>
<circle cx="1065.2" cy="1293.3" r="3.9"/>
<circle cx="1074.6" cy="1316.6" r="3.9"/>
<circle cx="1090.5" cy="1311.9" r="3.9"/>
<circle cx="1101.2" cy="1300.6" r="3.9"/>
<circle cx="1130.5" cy="1317.2" r="3.9"/>
<circle cx="1142.5" cy="1357.2" r="3.9"/>
<circle cx="1159.8" cy="1367.8" r="3.9"/>
<circle cx="1169.1" cy="1375.2" r="3.9"/>
<circle cx="1182.4" cy="1347.9" r="3.9"/>
<circle cx="1189.1" cy="1386.5" r="3.9"/>
<circle cx="1201.1" cy="1350.5" r="3.9"/>
<circle cx="1205.7" cy="1322.6" r="3.9"/>
<circle cx="1211.7" cy="1365.2" r="3.9"/>
<circle cx="1234.4" cy="1368.5" r="3.9"/>
<circle cx="1250.3" cy="1387.8" r="3.9"/>
<circle cx="1279.6" cy="1380.5" r="3.9"/>
<ellipse cx="1316.0" cy="1387.8" rx="4.6" ry="3.5"/>
<ellipse cx="1345.2" cy="1407.8" rx="4.6" ry="3.5"/>
<ellipse cx="1361.9" cy="1415.8" rx="4.6" ry="3.5"/>
<ellipse cx="1393.2" cy="1417.1" rx="4.6" ry="3.5"/>
<ellipse cx="1413.2" cy="1401.1" rx="4.6" ry="3.5"/>
<ellipse cx="1439.8" cy="1425.1" rx="4.6" ry="3.5"/>
<ellipse cx="1473.1" cy="1427.7" rx="4.6" ry="3.5"/>
<ellipse cx="1498.4" cy="1429.1" rx="4.6" ry="3.5"/>
<ellipse cx="1525.0" cy="1427.7" rx="4.6" ry="3.5"/>
<ellipse cx="1558.3" cy="1430.4" rx="4.6" ry="3.5"/>
<ellipse cx="1588.0" cy="1437.7" rx="4.6" ry="3.5"/>
<ellipse cx="1618.6" cy="1442.4" rx="4.6" ry="3.5"/>
<ellipse cx="1650.5" cy="1445.1" rx="4.6" ry="3.5"/>
<ellipse cx="1680.5" cy="1445.1" rx="4.6" ry="3.5"/>
<ellipse cx="1713.1" cy="1437.1" rx="4.6" ry="3.5"/>
<ellipse cx="1740.4" cy="1444.4" rx="4.6" ry="3.5"/>
<ellipse cx="1777.7" cy="1446.4" rx="4.6" ry="3.5"/>
<ellipse cx="1803.7" cy="1443.7" rx="4.6" ry="3.5"/>
</g>
<g>
<g stroke="#0a0a0a" stroke-width="6.6" fill="none" stroke-linejoin="round" stroke-linecap="round">
<polyline points="508.6,954.4 508.6,986.5"/>
<polyline points="506.6,1043.9 506.6,1076.0"/>
<polyline points="505.2,1134.5 505.2,1167.9"/>
<polyline points="502.5,1225.0 501.4,1256.0"/>
<polyline points="501.3,1313.2 501.0,1343.9"/>
<polyline points="498.4,1409.1 497.4,1434.4"/>
<polyline points="466.8,1444.5 468.2,1440.5"/>
<polyline points="517.6,975.7 522.2,1005.1"/>
<polyline points="523.0,1066.6 527.5,1100.0"/>
<polyline points="540.7,1038.5 533.7,1072.1"/>
<polyline points="542.1,1059.9 544.3,1061.3"/>
<polyline points="549.7,1085.1 556.7,1120.0"/>
<polyline points="599.9,1085.2 601.0,1117.3"/>
<polyline points="596.0,1095.1 598.3,1092.1"/>
<polyline points="594.2,1129.1 590.8,1161.2"/>
<polyline points="598.8,1141.8 602.1,1145.8"/>
<polyline points="568.3,1175.6 575.3,1207.9"/>
<polyline points="605.2,1173.1 606.4,1207.8"/>
<polyline points="586.5,1219.6 586.5,1230.4"/>
<polyline points="579.8,1233.0 583.9,1233.0"/>
<polyline points="628.5,1230.2 619.0,1268.1"/>
<polyline points="657.5,1236.5 665.9,1277.5"/>
<polyline points="583.8,1238.6 583.8,1250.7"/>
<polyline points="608.7,1263.9 613.1,1300.0 618.4,1297.0"/>
<polyline points="633.6,1258.6 639.2,1290.7"/>
<polyline points="649.9,1262.6 645.5,1288.0"/>
<polyline points="683.2,1255.8 676.2,1288.1"/>
<polyline points="695.9,1303.9 699.0,1336.0 705.7,1330.8"/>
<polyline points="722.3,1296.4 729.0,1285.3 733.4,1297.6"/>
<polyline points="756.6,1287.8 748.0,1316.1"/>
<polyline points="799.3,1295.8 809.8,1333.4"/>
<polyline points="786.6,1335.8 786.6,1342.6"/>
<polyline points="828.7,1306.5 823.0,1335.9"/>
<polyline points="858.9,1238.2 860.3,1249.0 856.7,1259.2"/>
<polyline points="847.3,1326.4 843.7,1344.0"/>
<polyline points="872.4,1306.4 880.5,1338.7"/>
<polyline points="899.1,1311.7 893.8,1330.7"/>
<polyline points="928.9,1315.8 927.9,1329.3"/>
<polyline points="909.7,1350.4 915.7,1374.5 921.0,1373.2"/>
<polyline points="915.4,1377.1 914.7,1382.5"/>
<polyline points="947.0,1357.0 955.1,1390.6"/>
<polyline points="976.1,1337.3 970.3,1341.2 966.6,1374.6"/>
<polyline points="991.7,1360.7 1000.9,1375.0"/>
<polyline points="1031.5,1251.2 1028.3,1283.1"/>
<polyline points="1033.9,1270.6 1037.1,1273.0"/>
<polyline points="1061.0,1254.9 1065.5,1278.4"/>
<polyline points="1040.6,1301.1 1046.6,1324.1"/>
<polyline points="1087.2,1291.7 1091.9,1287.9 1095.6,1322.6"/>
<polyline points="1079.2,1322.4 1073.9,1341.4"/>
<polyline points="1022.5,1342.5 1021.4,1370.6"/>
<polyline points="1111.1,1373.0 1107.3,1384.0"/>
<polyline points="1125.7,1381.0 1132.7,1414.6"/>
<polyline points="1140.9,1326.5 1137.5,1359.9"/>
<polyline points="1147.5,1236.4 1144.2,1270.1"/>
<polyline points="1150.0,1259.1 1153.7,1260.9"/>
<polyline points="1160.4,1288.2 1169.3,1320.3"/>
<polyline points="1196.5,1386.3 1201.6,1402.6"/>
<polyline stroke-width="3.2" points="510.8,893.9 509.8,919.0"/>
</g>
<g fill="#0a0a0a">
<circle cx="510.0" cy="927.2" r="4.3"/>
<circle cx="507.9" cy="1015.7" r="4.3"/>
<circle cx="505.2" cy="1106.0" r="4.3"/>
<circle cx="504.0" cy="1195.8" r="4.3"/>
<circle cx="501.3" cy="1284.0" r="4.3"/>
<circle cx="500.6" cy="1374.5" r="4.3"/>
<circle cx="521.9" cy="1038.6" r="4.3"/>
<circle cx="562.5" cy="1147.8" r="4.3"/>
<circle cx="589.1" cy="1190.4" r="4.3"/>
<circle cx="607.8" cy="1234.4" r="4.3"/>
<circle cx="670.4" cy="1306.0" r="4.3"/>
<circle cx="641.7" cy="1321.2" r="4.3"/>
<circle cx="740.0" cy="1325.2" r="4.3"/>
<circle cx="771.3" cy="1309.2" r="4.3"/>
<circle cx="851.8" cy="1285.3" r="4.3"/>
<circle cx="866.5" cy="1278.6" r="4.3"/>
<circle cx="959.7" cy="1403.8" r="4.3"/>
<circle cx="1009.0" cy="1391.8" r="4.3"/>
<circle cx="1018.3" cy="1402.5" r="4.3"/>
<circle cx="1053.3" cy="1291.3" r="4.3"/>
<circle cx="1026.0" cy="1313.2" r="4.3"/>
<circle cx="1069.2" cy="1305.9" r="4.3"/>
<circle cx="1142.5" cy="1297.9" r="4.3"/>
<circle cx="1177.1" cy="1345.2" r="4.3"/>
<circle cx="1190.4" cy="1369.2" r="4.3"/>
</g>
</g>
<polygon fill="url(#sg)" points="510.1,481 503.6,510 502.7,579 502.0,718 501.3,885 500.1,1020 517.1,1020 515.5,885 514.6,718 514.0,579 513.3,510"/>
<polyline fill="none" stroke="#0a62e2" stroke-width="6.0" stroke-linejoin="round" stroke-linecap="round" points="462.0,1448.0 468.0,1441.0 480.0,1426.4 489.3,1437.0 493.5,1434.0 496.0,1413.0 497.5,1240.0 500.1,1020.0 501.3,885.0 502.0,718.0 502.7,579.0 503.6,510.0 506.5,489.0 510.1,480.5 512.4,492.0 513.3,510.0 514.0,579.0 514.6,718.0 515.5,885.0 517.1,1020.0 518.6,1240.0 520.0,1320.0 524.0,1400.0 528.0,1420.0 538.5,1424.0 545.0,1400.0 549.4,1350.0 553.6,1315.0 555.0,1293.0 558.0,1289.0 563.5,1292.0 566.5,1284.0 569.0,1255.0 573.0,1249.0 581.0,1254.0 586.6,1280.0 588.3,1315.0 592.7,1350.0 597.8,1362.5 609.0,1332.0 626.4,1373.0 634.4,1353.0 642.4,1403.8 653.0,1293.0 654.4,1292.0 666.4,1386.5 671.7,1446.4 678.4,1397.0 685.0,1433.0 689.0,1346.5 692.6,1276.0 694.1,1232.6 696.3,1203.6 699.5,1181.5 705.3,1203.6 709.7,1232.6 714.1,1276.0 719.6,1320.0 729.0,1392.0 742.6,1357.2 750.0,1375.8 757.3,1333.2 763.9,1349.2 770.6,1338.5 777.3,1354.5 786.6,1273.3 794.6,1333.2 805.2,1303.9 815.9,1341.2 829.9,1269.3 837.2,1322.6 845.2,1319.9 849.8,1311.9 866.5,1378.5 871.8,1327.9 880.5,1386.5 909.1,1311.9 917.1,1333.2 930.4,1362.5 945.7,1291.9 981.0,1399.8 989.0,1374.5 1002.3,1402.5 1002.7,1402.5 1010.0,1346.5 1016.0,1342.5 1021.3,1373.2 1028.0,1381.1 1038.6,1370.5 1045.9,1398.5 1053.9,1381.1 1061.3,1394.5 1075.9,1383.8 1082.6,1333.2 1089.9,1402.5 1096.5,1346.5 1104.5,1390.5 1111.9,1306.6 1123.2,1385.1 1133.2,1385.1 1147.8,1431.7 1154.5,1355.8 1159.8,1365.2 1169.1,1355.8 1177.1,1377.2 1186.4,1379.8 1191.7,1386.5 1198.4,1358.5 1205.1,1371.8 1213.0,1329.2 1219.7,1391.8 1227.0,1342.5 1234.4,1357.2 1241.7,1335.9 1255.7,1383.8 1263.6,1383.8 1277.6,1430.4 1283.6,1413.1 1292.9,1413.1 1292.0,1413.1 1297.3,1378.5 1304.0,1375.8 1312.0,1394.5 1317.3,1402.5 1327.3,1401.8 1335.3,1431.7 1341.9,1381.1 1356.6,1405.1 1363.9,1397.1 1377.9,1410.4 1385.9,1390.5 1393.2,1437.1 1399.8,1447.7 1406.5,1402.5 1414.5,1433.1 1421.1,1398.5 1426.5,1394.5 1435.8,1397.1 1443.1,1387.8 1451.1,1407.8 1464.4,1385.1 1473.1,1417.1 1493.0,1417.1 1499.7,1426.4 1509.0,1403.8"/>
<g fill="#ff00ff" opacity="0.35">
<ellipse cx="512.0" cy="240.2" rx="3.4" ry="4.3"/>
<ellipse cx="511.5" cy="255.9" rx="3.4" ry="4.3"/>
<ellipse cx="512.8" cy="283.4" rx="3.4" ry="4.3"/>
<ellipse cx="510.8" cy="297.9" rx="3.4" ry="4.3"/>
<ellipse cx="513.1" cy="325.1" rx="3.4" ry="4.3"/>
<ellipse cx="509.5" cy="340.3" rx="3.4" ry="4.3"/>
<ellipse cx="513.6" cy="367.8" rx="3.4" ry="4.3"/>
<ellipse cx="508.5" cy="382.5" rx="3.4" ry="4.3"/>
<ellipse cx="514.6" cy="409.7" rx="3.4" ry="4.3"/>
<ellipse cx="507.7" cy="425.0" rx="3.4" ry="4.3"/>
<ellipse cx="515.3" cy="453.0" rx="3.4" ry="4.3"/>
<ellipse cx="506.4" cy="466.9" rx="3.4" ry="4.3"/>
<ellipse cx="516.6" cy="494.9" rx="3.4" ry="4.3"/>
<ellipse cx="503.4" cy="508.9" rx="3.4" ry="4.3"/>
<ellipse cx="517.1" cy="537.6" rx="3.4" ry="4.3"/>
<ellipse cx="517.6" cy="579.3" rx="3.4" ry="4.3"/>
<ellipse cx="517.9" cy="622.5" rx="3.4" ry="4.3"/>
<ellipse cx="517.9" cy="664.5" rx="3.4" ry="4.3"/>
<ellipse cx="518.6" cy="706.4" rx="3.4" ry="4.3"/>
<ellipse cx="519.2" cy="749.2" rx="3.4" ry="4.3"/>
<ellipse cx="519.7" cy="791.6" rx="3.4" ry="4.3"/>
<ellipse cx="540.3" cy="711.5" rx="3.4" ry="4.3"/>
<ellipse cx="543.3" cy="744.6" rx="3.4" ry="4.3"/>
<ellipse cx="539.5" cy="753.5" rx="3.4" ry="4.3"/>
<ellipse cx="546.4" cy="787.8" rx="3.4" ry="4.3"/>
<ellipse cx="539.0" cy="796.7" rx="3.4" ry="4.3"/>
<ellipse cx="520.6" cy="834.0" rx="3.4" ry="4.3"/>
<ellipse cx="539.2" cy="839.3" rx="3.4" ry="4.3"/>
<ellipse cx="547.2" cy="830.0" rx="3.4" ry="4.3"/>
<ellipse cx="520.6" cy="876.6" rx="3.4" ry="4.3"/>
<ellipse cx="539.2" cy="881.2" rx="3.4" ry="4.3"/>
<ellipse cx="547.9" cy="873.2" rx="3.4" ry="4.3"/>
<ellipse cx="521.2" cy="918.5" rx="3.4" ry="4.3"/>
<ellipse cx="539.2" cy="923.2" rx="3.4" ry="4.3"/>
<ellipse cx="547.9" cy="914.5" rx="3.4" ry="4.3"/>
<ellipse cx="521.9" cy="961.1" rx="3.4" ry="4.3"/>
<ellipse cx="538.5" cy="965.8" rx="3.4" ry="4.3"/>
<ellipse cx="548.5" cy="957.8" rx="3.4" ry="4.3"/>
<ellipse cx="523.2" cy="1003.1" rx="3.4" ry="4.3"/>
<ellipse cx="538.5" cy="1008.4" rx="3.4" ry="4.3"/>
<ellipse cx="549.2" cy="999.7" rx="3.4" ry="4.3"/>
<ellipse cx="592.5" cy="885.2" rx="3.4" ry="4.3"/>
<ellipse cx="591.8" cy="901.9" rx="3.4" ry="4.3"/>
<ellipse cx="593.1" cy="928.5" rx="3.4" ry="4.3"/>
<ellipse cx="591.1" cy="943.1" rx="3.4" ry="4.3"/>
<ellipse cx="594.5" cy="971.1" rx="3.4" ry="4.3"/>
<ellipse cx="591.1" cy="985.8" rx="3.4" ry="4.3"/>
<ellipse cx="595.1" cy="1013.0" rx="3.4" ry="4.3"/>
<ellipse cx="523.9" cy="1044.6" rx="3.4" ry="4.3"/>
<ellipse cx="549.2" cy="1042.0" rx="3.4" ry="4.3"/>
<ellipse cx="537.2" cy="1092.6" rx="3.4" ry="4.3"/>
<ellipse cx="549.9" cy="1082.6" rx="3.4" ry="4.3"/>
<ellipse cx="524.6" cy="1130.5" rx="3.4" ry="4.3"/>
<ellipse cx="537.2" cy="1135.2" rx="3.4" ry="4.3"/>
<ellipse cx="549.9" cy="1127.9" rx="3.4" ry="4.3"/>
<ellipse cx="524.6" cy="1172.5" rx="3.4" ry="4.3"/>
<ellipse cx="536.5" cy="1177.8" rx="3.4" ry="4.3"/>
<ellipse cx="551.2" cy="1169.1" rx="3.4" ry="4.3"/>
<ellipse cx="525.2" cy="1215.1" rx="3.4" ry="4.3"/>
<ellipse cx="536.5" cy="1220.4" rx="3.4" ry="4.3"/>
<ellipse cx="551.2" cy="1211.7" rx="3.4" ry="4.3"/>
<ellipse cx="590.5" cy="1027.3" rx="3.4" ry="4.3"/>
<ellipse cx="595.8" cy="1056.0" rx="3.4" ry="4.3"/>
<ellipse cx="589.8" cy="1070.6" rx="3.4" ry="4.3"/>
<ellipse cx="595.1" cy="1096.6" rx="3.4" ry="4.3"/>
<ellipse cx="588.5" cy="1111.9" rx="3.4" ry="4.3"/>
<ellipse cx="598.5" cy="1139.8" rx="3.4" ry="4.3"/>
<ellipse cx="587.1" cy="1154.5" rx="3.4" ry="4.3"/>
<ellipse cx="598.5" cy="1182.5" rx="3.4" ry="4.3"/>
<ellipse cx="587.8" cy="1197.8" rx="3.4" ry="4.3"/>
<ellipse cx="598.5" cy="1225.7" rx="3.4" ry="4.3"/>
<ellipse cx="621.8" cy="1151.2" rx="3.4" ry="4.3"/>
<ellipse cx="620.4" cy="1171.1" rx="3.4" ry="4.3"/>
<ellipse cx="623.8" cy="1193.8" rx="3.4" ry="4.3"/>
<ellipse cx="619.8" cy="1213.7" rx="3.4" ry="4.3"/>
<ellipse cx="657.0" cy="1066.6" rx="3.4" ry="4.3"/>
<ellipse cx="653.7" cy="1088.6" rx="3.4" ry="4.3"/>
<ellipse cx="657.7" cy="1109.2" rx="3.4" ry="4.3"/>
<ellipse cx="651.1" cy="1129.9" rx="3.4" ry="4.3"/>
<ellipse cx="659.7" cy="1151.2" rx="3.4" ry="4.3"/>
<ellipse cx="649.7" cy="1173.1" rx="3.4" ry="4.3"/>
<ellipse cx="660.4" cy="1193.8" rx="3.4" ry="4.3"/>
<ellipse cx="649.1" cy="1215.1" rx="3.4" ry="4.3"/>
<ellipse cx="661.0" cy="1234.4" rx="3.4" ry="4.3"/>
<circle cx="719.0" cy="1226.4" r="3.9"/>
<circle cx="726.3" cy="1238.4" r="3.9"/>
<ellipse cx="525.9" cy="1257.3" rx="3.4" ry="4.3"/>
<ellipse cx="535.9" cy="1262.0" rx="3.4" ry="4.3"/>
<ellipse cx="551.9" cy="1254.0" rx="3.4" ry="4.3"/>
<ellipse cx="527.2" cy="1299.9" rx="3.4" ry="4.3"/>
<ellipse cx="535.9" cy="1305.2" rx="3.4" ry="4.3"/>
<ellipse cx="551.2" cy="1295.9" rx="3.4" ry="4.3"/>
<ellipse cx="528.5" cy="1341.9" rx="3.4" ry="4.3"/>
<ellipse cx="535.2" cy="1346.5" rx="3.4" ry="4.3"/>
<ellipse cx="554.5" cy="1339.2" rx="3.4" ry="4.3"/>
<ellipse cx="530.5" cy="1383.8" rx="3.4" ry="4.3"/>
<ellipse cx="535.2" cy="1390.5" rx="3.4" ry="4.3"/>
<ellipse cx="557.2" cy="1380.5" rx="3.4" ry="4.3"/>
<ellipse cx="529.9" cy="1428.4" rx="3.4" ry="4.3"/>
<ellipse cx="560.5" cy="1423.8" rx="3.4" ry="4.3"/>
<ellipse cx="583.8" cy="1324.6" rx="3.4" ry="4.3"/>
<ellipse cx="583.8" cy="1366.5" rx="3.4" ry="4.3"/>
<ellipse cx="582.5" cy="1409.1" rx="3.4" ry="4.3"/>
<ellipse cx="579.8" cy="1447.1" rx="3.4" ry="4.3"/>
<ellipse cx="599.8" cy="1267.3" rx="3.4" ry="4.3"/>
<ellipse cx="603.1" cy="1310.6" rx="3.4" ry="4.3"/>
<ellipse cx="607.1" cy="1352.5" rx="3.4" ry="4.3"/>
<ellipse cx="610.4" cy="1382.5" rx="3.4" ry="4.3"/>
<ellipse cx="617.1" cy="1253.3" rx="3.4" ry="4.3"/>
<ellipse cx="627.1" cy="1278.6" rx="3.4" ry="4.3"/>
<ellipse cx="635.1" cy="1302.6" rx="3.4" ry="4.3"/>
<ellipse cx="647.1" cy="1257.3" rx="3.4" ry="4.3"/>
<ellipse cx="637.1" cy="1343.9" rx="3.4" ry="4.3"/>
<ellipse cx="671.0" cy="1278.6" rx="3.4" ry="4.3"/>
<ellipse cx="671.0" cy="1320.6" rx="3.4" ry="4.3"/>
<ellipse cx="671.7" cy="1362.5" rx="3.4" ry="4.3"/>
<ellipse cx="680.3" cy="1367.8" rx="3.4" ry="4.3"/>
<ellipse cx="672.4" cy="1405.1" rx="3.4" ry="4.3"/>
<ellipse cx="685.0" cy="1337.9" rx="3.4" ry="4.3"/>
<ellipse cx="695.7" cy="1379.1" rx="3.4" ry="4.3"/>
<circle cx="702.3" cy="1353.2" r="3.9"/>
<circle cx="711.0" cy="1310.6" r="3.9"/>
<circle cx="728.3" cy="1279.3" r="3.9"/>
<circle cx="730.3" cy="1323.2" r="3.9"/>
<circle cx="736.3" cy="1361.2" r="3.9"/>
<circle cx="751.3" cy="1387.8" r="3.9"/>
<circle cx="765.3" cy="1302.6" r="3.9"/>
<circle cx="768.6" cy="1321.9" r="3.9"/>
<circle cx="772.6" cy="1355.8" r="3.9"/>
<circle cx="786.6" cy="1361.2" r="3.9"/>
<circle cx="794.6" cy="1351.9" r="3.9"/>
<circle cx="802.6" cy="1343.2" r="3.9"/>
<circle cx="807.9" cy="1368.5" r="3.9"/>
<circle cx="825.2" cy="1340.5" r="3.9"/>
<circle cx="837.2" cy="1367.8" r="3.9"/>
<circle cx="850.5" cy="1346.5" r="3.9"/>
<circle cx="865.1" cy="1347.9" r="3.9"/>
<circle cx="882.5" cy="1326.6" r="3.9"/>
<circle cx="899.1" cy="1349.9" r="3.9"/>
<circle cx="917.1" cy="1311.2" r="3.9"/>
<circle cx="921.1" cy="1353.2" r="3.9"/>
<circle cx="946.4" cy="1317.2" r="3.9"/>
<circle cx="939.7" cy="1330.5" r="3.9"/>
<circle cx="953.0" cy="1333.2" r="3.9"/>
<circle cx="973.7" cy="1326.6" r="3.9"/>
<circle cx="993.6" cy="1345.2" r="3.9"/>
<circle cx="1024.0" cy="1286.6" r="3.9"/>
<circle cx="1014.6" cy="1305.9" r="3.9"/>
<circle cx="1031.3" cy="1327.9" r="3.9"/>
<circle cx="1008.0" cy="1342.5" r="3.9"/>
<circle cx="1038.6" cy="1356.5" r="3.9"/>
<circle cx="1065.2" cy="1293.3" r="3.9"/>
<circle cx="1074.6" cy="1316.6" r="3.9"/>
<circle cx="1090.5" cy="1311.9" r="3.9"/>
<circle cx="1101.2" cy="1300.6" r="3.9"/>
<circle cx="1130.5" cy="1317.2" r="3.9"/>
<circle cx="1142.5" cy="1357.2" r="3.9"/>
<circle cx="1159.8" cy="1367.8" r="3.9"/>
<circle cx="1169.1" cy="1375.2" r="3.9"/>
<circle cx="1182.4" cy="1347.9" r="3.9"/>
<circle cx="1189.1" cy="1386.5" r="3.9"/>
<circle cx="1201.1" cy="1350.5" r="3.9"/>
<circle cx="1205.7" cy="1322.6" r="3.9"/>
<circle cx="1211.7" cy="1365.2" r="3.9"/>
<circle cx="1234.4" cy="1368.5" r="3.9"/>
<circle cx="1250.3" cy="1387.8" r="3.9"/>
<circle cx="1279.6" cy="1380.5" r="3.9"/>
<ellipse cx="1316.0" cy="1387.8" rx="4.6" ry="3.5"/>
<ellipse cx="1345.2" cy="1407.8" rx="4.6" ry="3.5"/>
<ellipse cx="1361.9" cy="1415.8" rx="4.6" ry="3.5"/>
<ellipse cx="1393.2" cy="1417.1" rx="4.6" ry="3.5"/>
<ellipse cx="1413.2" cy="1401.1" rx="4.6" ry="3.5"/>
<ellipse cx="1439.8" cy="1425.1" rx="4.6" ry="3.5"/>
<ellipse cx="1473.1" cy="1427.7" rx="4.6" ry="3.5"/>
<ellipse cx="1498.4" cy="1429.1" rx="4.6" ry="3.5"/>
<ellipse cx="1525.0" cy="1427.7" rx="4.6" ry="3.5"/>
<ellipse cx="1558.3" cy="1430.4" rx="4.6" ry="3.5"/>
<ellipse cx="1588.0" cy="1437.7" rx="4.6" ry="3.5"/>
<ellipse cx="1618.6" cy="1442.4" rx="4.6" ry="3.5"/>
<ellipse cx="1650.5" cy="1445.1" rx="4.6" ry="3.5"/>
<ellipse cx="1680.5" cy="1445.1" rx="4.6" ry="3.5"/>
<ellipse cx="1713.1" cy="1437.1" rx="4.6" ry="3.5"/>
<ellipse cx="1740.4" cy="1444.4" rx="4.6" ry="3.5"/>
<ellipse cx="1777.7" cy="1446.4" rx="4.6" ry="3.5"/>
<ellipse cx="1803.7" cy="1443.7" rx="4.6" ry="3.5"/>
</g>
<g opacity="0.45">
<g stroke="#0a0a0a" stroke-width="6.6" fill="none" stroke-linejoin="round" stroke-linecap="round">
<polyline points="508.6,954.4 508.6,986.5"/>
<polyline points="506.6,1043.9 506.6,1076.0"/>
<polyline points="505.2,1134.5 505.2,1167.9"/>
<polyline points="502.5,1225.0 501.4,1256.0"/>
<polyline points="501.3,1313.2 501.0,1343.9"/>
<polyline points="498.4,1409.1 497.4,1434.4"/>
<polyline points="466.8,1444.5 468.2,1440.5"/>
<polyline points="517.6,975.7 522.2,1005.1"/>
<polyline points="523.0,1066.6 527.5,1100.0"/>
<polyline points="540.7,1038.5 533.7,1072.1"/>
<polyline points="542.1,1059.9 544.3,1061.3"/>
<polyline points="549.7,1085.1 556.7,1120.0"/>
<polyline points="599.9,1085.2 601.0,1117.3"/>
<polyline points="596.0,1095.1 598.3,1092.1"/>
<polyline points="594.2,1129.1 590.8,1161.2"/>
<polyline points="598.8,1141.8 602.1,1145.8"/>
<polyline points="568.3,1175.6 575.3,1207.9"/>
<polyline points="605.2,1173.1 606.4,1207.8"/>
<polyline points="586.5,1219.6 586.5,1230.4"/>
<polyline points="579.8,1233.0 583.9,1233.0"/>
<polyline points="628.5,1230.2 619.0,1268.1"/>
<polyline points="657.5,1236.5 665.9,1277.5"/>
<polyline points="583.8,1238.6 583.8,1250.7"/>
<polyline points="608.7,1263.9 613.1,1300.0 618.4,1297.0"/>
<polyline points="633.6,1258.6 639.2,1290.7"/>
<polyline points="649.9,1262.6 645.5,1288.0"/>
<polyline points="683.2,1255.8 676.2,1288.1"/>
<polyline points="695.9,1303.9 699.0,1336.0 705.7,1330.8"/>
<polyline points="722.3,1296.4 729.0,1285.3 733.4,1297.6"/>
<polyline points="756.6,1287.8 748.0,1316.1"/>
<polyline points="799.3,1295.8 809.8,1333.4"/>
<polyline points="786.6,1335.8 786.6,1342.6"/>
<polyline points="828.7,1306.5 823.0,1335.9"/>
<polyline points="858.9,1238.2 860.3,1249.0 856.7,1259.2"/>
<polyline points="847.3,1326.4 843.7,1344.0"/>
<polyline points="872.4,1306.4 880.5,1338.7"/>
<polyline points="899.1,1311.7 893.8,1330.7"/>
<polyline points="928.9,1315.8 927.9,1329.3"/>
<polyline points="909.7,1350.4 915.7,1374.5 921.0,1373.2"/>
<polyline points="915.4,1377.1 914.7,1382.5"/>
<polyline points="947.0,1357.0 955.1,1390.6"/>
<polyline points="976.1,1337.3 970.3,1341.2 966.6,1374.6"/>
<polyline points="991.7,1360.7 1000.9,1375.0"/>
<polyline points="1031.5,1251.2 1028.3,1283.1"/>
<polyline points="1033.9,1270.6 1037.1,1273.0"/>
<polyline points="1061.0,1254.9 1065.5,1278.4"/>
<polyline points="1040.6,1301.1 1046.6,1324.1"/>
<polyline points="1087.2,1291.7 1091.9,1287.9 1095.6,1322.6"/>
<polyline points="1079.2,1322.4 1073.9,1341.4"/>
<polyline points="1022.5,1342.5 1021.4,1370.6"/>
<polyline points="1111.1,1373.0 1107.3,1384.0"/>
<polyline points="1125.7,1381.0 1132.7,1414.6"/>
<polyline points="1140.9,1326.5 1137.5,1359.9"/>
<polyline points="1147.5,1236.4 1144.2,1270.1"/>
<polyline points="1150.0,1259.1 1153.7,1260.9"/>
<polyline points="1160.4,1288.2 1169.3,1320.3"/>
<polyline points="1196.5,1386.3 1201.6,1402.6"/>
<polyline stroke-width="3.2" points="510.8,893.9 509.8,919.0"/>
</g>
<g fill="#0a0a0a">
<circle cx="510.0" cy="927.2" r="4.3"/>
<circle cx="507.9" cy="1015.7" r="4.3"/>
<circle cx="505.2" cy="1106.0" r="4.3"/>
<circle cx="504.0" cy="1195.8" r="4.3"/>
<circle cx="501.3" cy="1284.0" r="4.3"/>
<circle cx="500.6" cy="1374.5" r="4.3"/>
<circle cx="521.9" cy="1038.6" r="4.3"/>
<circle cx="562.5" cy="1147.8" r="4.3"/>
<circle cx="589.1" cy="1190.4" r="4.3"/>
<circle cx="607.8" cy="1234.4" r="4.3"/>
<circle cx="670.4" cy="1306.0" r="4.3"/>
<circle cx="641.7" cy="1321.2" r="4.3"/>
<circle cx="740.0" cy="1325.2" r="4.3"/>
<circle cx="771.3" cy="1309.2" r="4.3"/>
<circle cx="851.8" cy="1285.3" r="4.3"/>
<circle cx="866.5" cy="1278.6" r="4.3"/>
<circle cx="959.7" cy="1403.8" r="4.3"/>
<circle cx="1009.0" cy="1391.8" r="4.3"/>
<circle cx="1018.3" cy="1402.5" r="4.3"/>
<circle cx="1053.3" cy="1291.3" r="4.3"/>
<circle cx="1026.0" cy="1313.2" r="4.3"/>
<circle cx="1069.2" cy="1305.9" r="4.3"/>
<circle cx="1142.5" cy="1297.9" r="4.3"/>
<circle cx="1177.1" cy="1345.2" r="4.3"/>
<circle cx="1190.4" cy="1369.2" r="4.3"/>
</g>
</g>
<g stroke="#1c1c1c" stroke-width="5.1" fill="none">
<rect x="324.1" y="51.0" width="1734.3" height="1399.0"/>
<line x1="324.1" y1="1310.1" x2="339.1" y2="1310.1"/>
<line x1="324.1" y1="1170.2" x2="352.1" y2="1170.2"/>
<line x1="324.1" y1="1030.3" x2="339.1" y2="1030.3"/>
<line x1="324.1" y1="890.4" x2="352.1" y2="890.4"/>
<line x1="324.1" y1="750.5" x2="339.1" y2="750.5"/>
<line x1="324.1" y1="610.6" x2="352.1" y2="610.6"/>
<line x1="324.1" y1="470.7" x2="339.1" y2="470.7"/>
<line x1="324.1" y1="330.8" x2="352.1" y2="330.8"/>
<line x1="324.1" y1="190.9" x2="339.1" y2="190.9"/>
<line x1="468.6" y1="1450.0" x2="468.6" y2="1436.0"/>
<line x1="613.2" y1="1450.0" x2="613.2" y2="1423.0"/>
<line x1="757.7" y1="1450.0" x2="757.7" y2="1436.0"/>
<line x1="902.2" y1="1450.0" x2="902.2" y2="1423.0"/>
<line x1="1046.7" y1="1450.0" x2="1046.7" y2="1436.0"/>
<line x1="1191.2" y1="1450.0" x2="1191.2" y2="1423.0"/>
<line x1="1335.8" y1="1450.0" x2="1335.8" y2="1436.0"/>
<line x1="1480.3" y1="1450.0" x2="1480.3" y2="1423.0"/>
<line x1="1624.8" y1="1450.0" x2="1624.8" y2="1436.0"/>
<line x1="1769.3" y1="1450.0" x2="1769.3" y2="1423.0"/>
<line x1="1913.9" y1="1450.0" x2="1913.9" y2="1436.0"/>
</g>
<rect x="890.3" y="514.8" width="1059.8" height="277.2" fill="none" stroke="#9c9c9c" stroke-width="3.4"/>
<line x1="901.8" y1="565.4" x2="1040" y2="565.4" stroke="#ff00ff" stroke-width="9.0" stroke-linecap="round" stroke-dasharray="1.5 40.8"/>
<g stroke="#0a0a0a" stroke-width="7.6"><line x1="897.0" y1="653.9" x2="938.6" y2="653.9"/><line x1="986.0" y1="653.9" x2="1028.0" y2="653.9"/></g>
<g fill="#0a0a0a"><circle cx="962.1" cy="653.9" r="4.8"/><circle cx="1051.6" cy="653.9" r="4.8"/></g>
<line x1="897.0" y1="744.2" x2="1064.0" y2="744.2" stroke="#0a62e2" stroke-width="6.6"/>
</g>
<g class="t">
<text class="tk" transform="translate(295.4 348.4) scale(0.940 1.065)" text-anchor="end" letter-spacing="1.20">2.0</text>
<text class="tk" transform="translate(295.4 628.2) scale(0.940 1.065)" text-anchor="end" letter-spacing="1.20">1.5</text>
<text class="tk" transform="translate(295.4 908.0) scale(0.940 1.065)" text-anchor="end" letter-spacing="1.20">1.0</text>
<text class="tk" transform="translate(295.4 1187.8) scale(0.940 1.065)" text-anchor="end" letter-spacing="1.20">0.5</text>
<text class="tk" transform="translate(295.4 1467.6) scale(0.940 1.065)" text-anchor="end" letter-spacing="1.20">0.0</text>
<text class="tk" transform="translate(296.0 73.3) scale(0.940 1.065)" text-anchor="end" letter-spacing="1.20">2.5x10<tspan font-size="44" dy="-22.5">8</tspan></text>
<text class="tk" transform="translate(324.7 1526.6) scale(0.940 1.065)" text-anchor="middle" letter-spacing="1.20">0</text>
<text class="tk" transform="translate(613.8 1526.6) scale(0.940 1.065)" text-anchor="middle" letter-spacing="1.20">2</text>
<text class="tk" transform="translate(902.8 1526.6) scale(0.940 1.065)" text-anchor="middle" letter-spacing="1.20">4</text>
<text class="tk" transform="translate(1191.8 1526.6) scale(0.940 1.065)" text-anchor="middle" letter-spacing="1.20">6</text>
<text class="tk" transform="translate(1480.9 1526.6) scale(0.940 1.065)" text-anchor="middle" letter-spacing="1.20">8</text>
<text class="tk" transform="translate(1769.9 1526.6) scale(0.940 1.065)" text-anchor="middle" letter-spacing="1.20">10</text>
<text class="tk" transform="translate(2060.8 1534.6) scale(0.940 1.065)" text-anchor="middle" letter-spacing="1.20">12x10<tspan font-size="36" dy="-23">-4</tspan></text>
<text class="bg" transform="translate(1080.0 590.0) scale(0.995 1.020)">hemispherical-ended cylinder</text>
<text class="bg" transform="translate(1082.0 679.0) scale(0.995 1.020)">Wilbeck experiment</text>
<text class="bg" transform="translate(1080.0 769.3) scale(0.995 1.020)">mallard</text>
<text class="tk" transform="translate(2069.5 241.8) scale(0.990 1.030)">218 Mpa</text>
<text class="tk" transform="translate(2071.0 506.0) scale(0.965 1.030)">173 Mpa</text>
<text class="tk" transform="translate(2078.0 914.0) scale(0.990 1.030)">99 Mpa</text>
<text class="bg" transform="translate(1191.7 1642.2) scale(1.000 1.020)" text-anchor="middle">Time (s)</text>
<text class="bg" transform="translate(81.4 750.5) rotate(-90) scale(1.000 1.020)" text-anchor="middle">The pressure at the center of the plate (Pa)</text>
</g>
</svg>
</body></html>
